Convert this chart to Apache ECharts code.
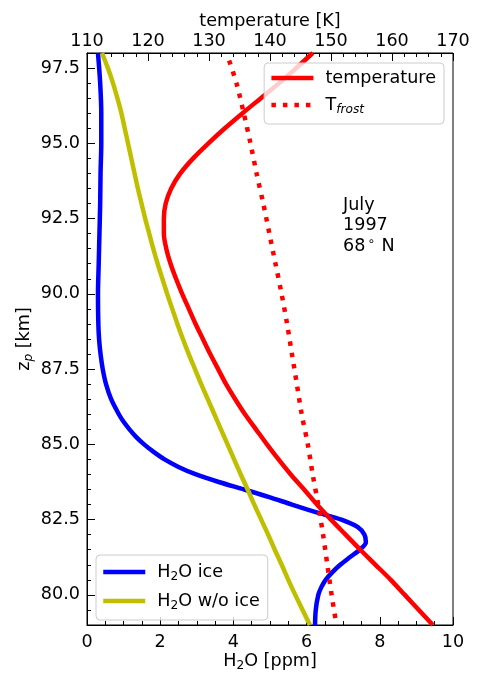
<!DOCTYPE html>
<html>
<head>
<meta charset="utf-8">
<script src="https://cdn.jsdelivr.net/npm/echarts@6/dist/echarts.min.js"></script>
<style>
  html, body { margin: 0; padding: 0; background: #fff; }
  #chart { width: 477px; height: 673px; }
</style>
</head>
<body>
<div id="chart"></div>
<script>
// altitude grid (km) for temperature and H2O without ice
const altitude = [98, 97.5, 97, 96.5, 96, 95.5, 95, 94.5, 94, 93.5, 93, 92.5, 92, 91.5, 91,
  90.5, 90, 89.5, 89, 88.5, 88, 87.5, 87, 86.5, 86, 85.5, 85, 84.5, 84, 83.5, 83, 82.5, 82,
  81.5, 81, 80.5, 80, 79.5, 79]

// temperature [K]
const temperature = [147.0, 144.3, 141.5, 138.5, 135.5, 132.6, 129.9, 127.4, 125.3, 123.8, 122.9,
  122.6, 122.6, 123.0, 123.7, 124.6, 125.6, 126.7, 127.8, 129.0, 130.2, 131.5, 132.8, 134.3,
  135.9, 137.7, 139.5, 141.4, 143.4, 145.6, 147.7, 150.0, 152.4, 154.8, 157.3, 159.8, 162.1,
  164.4, 166.7]

// H2O without ice [ppm]
const h2oNoIce = [0.41, 0.57, 0.71, 0.83, 0.94, 1.03, 1.12, 1.21, 1.30, 1.39, 1.49, 1.59, 1.70,
  1.81, 1.93, 2.06, 2.19, 2.33, 2.47, 2.62, 2.78, 2.95, 3.12, 3.30, 3.48, 3.66, 3.84, 4.02,
  4.20, 4.39, 4.57, 4.76, 4.95, 5.13, 5.32, 5.50, 5.69, 5.89, 6.09]

// altitude grid (km) and H2O with ice [ppm]
const iceAltitude = [98, 97, 96, 95, 94, 93, 92, 91, 90, 89, 88.5, 88, 87.5, 87, 86.5, 86,
  85.75, 85.5, 85.25, 85, 84.75, 84.5, 84.25, 84, 83.75, 83.5, 83.25, 83, 82.75, 82.5, 82.25,
  82, 81.75, 81.5, 81.25, 81, 80.75, 80.5, 80.25, 80, 79.5, 79]
const h2oIce = [0.30, 0.36, 0.39, 0.39, 0.37, 0.36, 0.34, 0.32, 0.30, 0.31, 0.33, 0.37, 0.43,
  0.52, 0.66, 0.87, 1.0, 1.16, 1.34, 1.56, 1.82, 2.12, 2.5, 2.98, 3.6, 4.3, 4.98, 5.6, 6.25,
  6.95, 7.4, 7.58, 7.62, 7.45, 7.18, 6.92, 6.7, 6.52, 6.4, 6.32, 6.25, 6.23]

// frost point temperature [K]
const frostAltitude = [97.75, 97, 96, 95, 94, 93, 92, 91, 90, 89, 88, 87, 86, 85, 84, 83, 82, 81, 80, 79]
const frostTemp = [133.3, 134.5, 135.7, 136.8, 137.8, 138.9, 139.9, 140.9, 141.9, 142.8, 143.6,
  144.4, 145.2, 146.2, 147.0, 147.9, 148.7, 149.4, 150.1, 150.9]

const zLabels = [80, 82.5, 85, 87.5, 90, 92.5, 95, 97.5]

const FONT = 'DejaVu Sans'
const FS = 17.6

const legendText = {
  'temperature': '{n|temperature}',
  'T_frost': '{n|T}{s|frost}',
  'H2O ice': '{n|H}{d|2}{n|O ice}',
  'H2O w/o ice': '{n|H}{d|2}{n|O w/o ice}'
}

const richText = {
  n: { fontSize: FS, lineHeight: 22, color: '#000', fontFamily: FONT },
  s: { fontSize: 12.2, lineHeight: 12, fontStyle: 'italic', verticalAlign: 'bottom', color: '#000', fontFamily: FONT },
  d: { fontSize: 12.2, lineHeight: 12, verticalAlign: 'bottom', color: '#000', fontFamily: FONT }
}

const pair = (xs, ys) => xs.map((x, i) => [x, ys[i]])

const tickStyle = { color: '#000', width: 1 }
const labelStyle = { fontSize: FS, color: '#000', fontFamily: FONT }

const legendBase = {
  orient: 'vertical', z: 10,
  itemWidth: 42, itemHeight: 18, itemGap: 9,
  backgroundColor: 'rgba(255,255,255,0.8)', borderColor: '#cccccc', borderWidth: 1, borderRadius: 4,
  itemStyle: { opacity: 0 },
  lineStyle: { width: 4.5 },
  formatter: name => legendText[name],
  textStyle: { padding: [0, 0, 0, 7], fontFamily: FONT, rich: richText }
}

const lineSeries = (name, xs, ys, axis, color, extra) => ({
  name, type: 'line', xAxisIndex: axis, yAxisIndex: 0,
  data: pair(xs, ys), symbol: 'none', smooth: 0.3,
  lineStyle: Object.assign({ color, width: 4.5 }, extra || {}), itemStyle: { color }
})

const option = {
  animation: false,
  backgroundColor: '#fff',
  textStyle: { fontFamily: FONT },
  grid: {
    left: 87, right: 24, top: 53, bottom: 48,
    outerBoundsMode: 'none', containLabel: false,
    show: true, borderColor: '#000', borderWidth: 1, backgroundColor: 'transparent'
  },
  xAxis: [
    {
      type: 'value', position: 'bottom', min: 0, max: 10, interval: 2,
      name: '{n|H}{d|2}{n|O [ppm]}', nameLocation: 'middle', nameGap: 25, nameMoveOverlap: false,
      nameTextStyle: { fontFamily: FONT, rich: richText },
      axisLine: { lineStyle: tickStyle },
      axisTick: { inside: true, length: 8, lineStyle: tickStyle },
      minorTick: { show: true, splitNumber: 4, length: 4, lineStyle: tickStyle },
      splitLine: { show: false },
      axisLabel: Object.assign({ margin: 8 }, labelStyle)
    },
    {
      type: 'value', position: 'top', min: 110, max: 170, interval: 10,
      name: 'temperature [K]', nameLocation: 'middle', nameGap: 23, nameMoveOverlap: false,
      nameTextStyle: labelStyle,
      axisLine: { lineStyle: tickStyle },
      axisTick: { inside: true, length: 8, lineStyle: tickStyle },
      minorTick: { show: true, splitNumber: 5, length: 4, lineStyle: tickStyle },
      splitLine: { show: false },
      axisLabel: Object.assign({ margin: 3 }, labelStyle)
    }
  ],
  yAxis: [
    {
      type: 'value', position: 'left', min: 79, max: 98, interval: 0.5,
      axisLine: { lineStyle: tickStyle },
      axisTick: { inside: true, length: 4, lineStyle: tickStyle },
      axisLabel: { show: false },
      splitLine: { show: false }
    },
    {
      type: 'value', position: 'left', min: 79, max: 98,
      name: '{n|z}{s|p}{n| [km]}', nameLocation: 'middle', nameGap: 52, nameRotate: 90,
      nameMoveOverlap: false,
      nameTextStyle: { fontFamily: FONT, rich: richText },
      axisLine: { show: false },
      axisTick: { inside: true, length: 8, lineStyle: tickStyle, customValues: zLabels },
      axisLabel: Object.assign({ margin: 7, customValues: zLabels, formatter: v => v.toFixed(1) }, labelStyle),
      splitLine: { show: false }
    }
  ],
  legend: [
    Object.assign({ data: ['temperature', 'T_frost'], right: 33, top: 63, padding: [6, 8, 8, 5] }, legendBase),
    Object.assign({ data: ['H2O ice', 'H2O w/o ice'], left: 96, top: 555, padding: [8, 8, 8, 5] }, legendBase)
  ],
  graphic: [
    {
      type: 'text', left: 343, top: 196, z: 10,
      style: {
        text: '{a|July}\n{a|1997}\n{a|68}{o|∘}{a| N}',
        rich: {
          a: { fontSize: FS, lineHeight: 20.5, fill: '#000', fontFamily: FONT },
          o: { fontSize: 12.2, lineHeight: 12, verticalAlign: 'top', fill: '#000', padding: [0, 1, 0, 2], fontFamily: FONT }
        }
      }
    }
  ],
  series: [
    lineSeries('H2O ice', h2oIce, iceAltitude, 0, '#0000ff'),
    lineSeries('H2O w/o ice', h2oNoIce, altitude, 0, '#bfbf00'),
    lineSeries('temperature', temperature, altitude, 1, '#ff0000'),
    lineSeries('T_frost', frostTemp, frostAltitude, 1, '#ff0000', { type: [4.5, 7], cap: 'butt' })
  ]
}

const chart = echarts.init(document.getElementById('chart'))
chart.setOption(option)
</script>
</body>
</html>
